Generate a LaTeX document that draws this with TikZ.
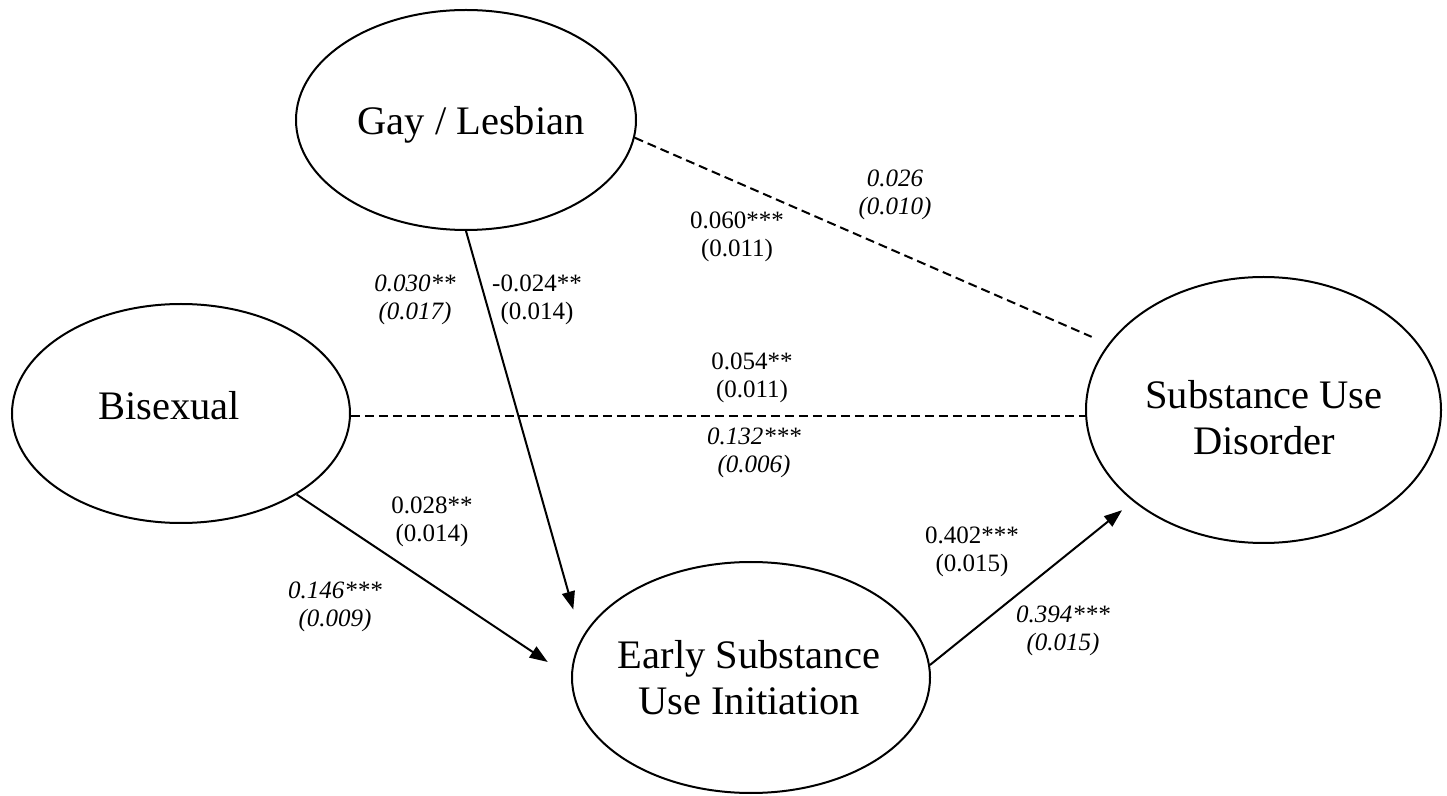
\documentclass[tikz,border=0pt]{standalone}
\usepackage{fontspec}
\setmainfont{Liberation Serif}
\usetikzlibrary{arrows.meta,shapes.geometric}
\begin{document}
\begin{tikzpicture}[x=0.5pt,y=-0.5pt,
  latent/.style={ellipse, draw, line width=1pt, inner sep=0pt},
  nodetext/.style={inner sep=0pt, align=center, font=\fontsize{20.25}{23}\selectfont},
  coef/.style={inner sep=0pt, align=center, font=\fontsize{12.5}{14}\selectfont},
  coefit/.style={coef, font=\fontsize{12.5}{14}\selectfont\itshape},
  regpath/.style={line width=1pt, -{Triangle[length=9pt,width=6.5pt]}},
  covpath/.style={line width=1pt, dash pattern=on 4.5pt off 2.5pt}]
\useasboundingbox[fill=white] (0,0) rectangle (1447,796);

% latent variables
\node[latent, minimum width=170pt, minimum height=110pt] (gay) at (466,120) {};
\node[latent, minimum width=169pt, minimum height=109.5pt] (bis) at (181,413.5) {};
\node[latent, minimum width=179pt, minimum height=115.5pt] (esui) at (751,677.5) {};
\node[latent, minimum width=177.5pt, minimum height=133pt] (sud) at (1263.5,410) {};

% variable names
\node[nodetext, anchor=base] (gaytxt) at (471,135) {Gay / Lesbian};
\node[nodetext, anchor=base] (bistxt) at (169,420) {Bisexual};
\node[nodetext] (esuitxt) at (749,677.5) {Early Substance\\Use Initiation};
\node[nodetext] (sudtxt) at (1264,417.5) {Substance Use\\Disorder};

% paths
\draw[regpath, shorten >=15pt] (gay.south) -- (esui.167.8);
\draw[regpath, shorten >=14pt] (bis.-35.7) -- (esui.west);
\draw[regpath, shorten >=7pt] (esui.4) -- (sud.215.9);
\draw[covpath, shorten >=9pt] (gay.-6.7) -- (sud.157);
\draw[covpath] (bis.-1.2) -- (bis.-1.2 -| sud.west);

% coefficients
\node[coefit] (c1) at (895,195) {0.026\\(0.010)};
\node[coef] (c2) at (737,237) {0.060***\\(0.011)};
\node[coefit] (c3) at (415,300) {0.030**\\(0.017)};
\node[coef] (c4) at (537,300) {-0.024**\\(0.014)};
\node[coef] (c5) at (752,378) {0.054**\\(0.011)};
\node[coefit] (c6) at (754,453) {0.132***\\(0.006)};
\node[coef] (c7) at (432,522) {0.028**\\(0.014)};
\node[coefit] (c8) at (335,607) {0.146***\\(0.009)};
\node[coef] (c9) at (972,552) {0.402***\\(0.015)};
\node[coefit] (c10) at (1063,631) {0.394***\\(0.015)};
\end{tikzpicture}
\end{document}
